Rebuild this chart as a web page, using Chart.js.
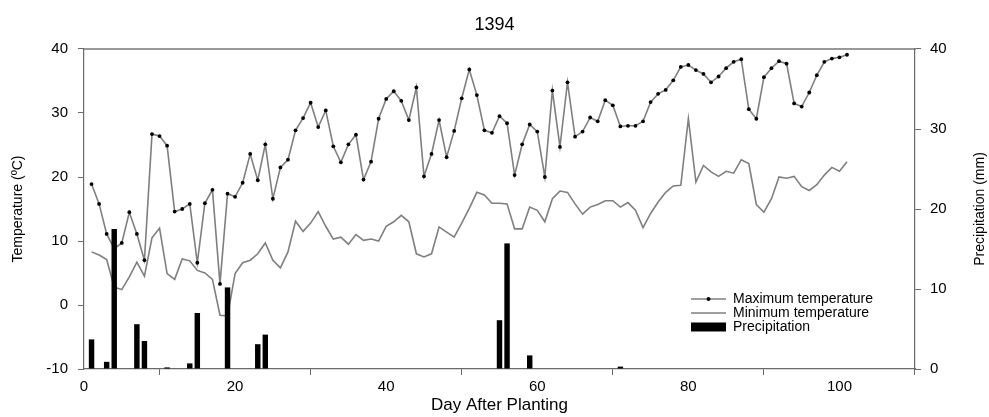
<!DOCTYPE html>
<html>
<head>
<meta charset="utf-8">
<script src="https://cdn.jsdelivr.net/npm/chart.js@4.4.1/dist/chart.umd.min.js"></script>
<style>
  html, body { margin: 0; padding: 0; background: #ffffff; }
  #wrap { width: 989px; height: 417px; position: relative; }
</style>
</head>
<body>
<div id="wrap"><canvas id="c" width="989" height="417"></canvas></div>
<script>
// ---------- data ----------
const chartTitle = '1394';
const days = [1,2,3,4,5,6,7,8,9,10,11,12,13,14,15,16,17,18,19,20,
  21,22,23,24,25,26,27,28,29,30,31,32,33,34,35,36,37,38,39,40,
  41,42,43,44,45,46,47,48,49,50,51,52,53,54,55,56,57,58,59,60,
  61,62,63,64,65,66,67,68,69,70,71,72,73,74,75,76,77,78,79,80,
  81,82,83,84,85,86,87,88,89,90,91,92,93,94,95,96,97,98,99,100,101];

const maxTemp = [18.9,15.8,11.1,8.8,9.7,14.5,11.1,7.0,26.7,26.4,
  24.9,14.6,15.0,15.8,6.6,15.9,18.0,3.3,17.4,16.9,
  19.1,23.6,19.5,25.1,16.6,21.5,22.7,27.3,29.2,31.6,
  27.8,30.4,24.8,22.3,25.1,26.6,19.6,22.4,29.1,32.2,
  33.4,31.9,28.9,34.0,20.1,23.6,28.9,23.1,27.2,32.3,
  36.8,32.8,27.3,26.9,29.5,28.4,20.3,25.1,28.2,27.1,
  20.0,33.5,24.7,34.8,26.3,27.1,29.3,28.7,32.0,31.2,
  27.9,28.0,28.0,28.7,31.7,33.0,33.6,35.1,37.2,37.5,
  36.7,36.1,34.8,35.7,37.0,38.0,38.4,30.6,29.1,35.6,
  37.0,38.1,37.7,31.5,31.0,33.2,35.9,38.0,38.5,38.7,39.1];

const minTemp = [8.3,7.8,7.1,2.8,2.4,4.4,6.7,4.5,10.5,12.0,
  4.9,4.0,7.2,6.9,5.4,5.0,4.0,-1.6,-1.7,4.9,
  6.6,7.0,8.0,9.7,7.0,5.8,8.3,13.1,11.5,12.8,
  14.6,12.3,10.3,10.6,9.5,11.0,10.1,10.3,10.0,12.3,
  13.0,14.0,13.0,8.0,7.5,8.0,12.2,11.4,10.6,12.8,
  15.1,17.6,17.2,15.9,15.9,15.8,11.9,11.9,15.3,14.8,
  13.0,16.6,17.8,17.6,15.8,14.2,15.3,15.7,16.3,16.3,
  15.3,16.0,14.8,12.1,14.3,16.1,17.6,18.6,18.7,29.1,
  19.2,21.8,20.8,20.1,20.9,20.6,22.7,22.1,15.7,14.5,
  16.6,20.0,19.8,20.1,18.5,17.9,18.8,20.3,21.5,20.9,22.4];

const precipDays   = [1, 3, 4, 7, 8, 11, 14, 15, 19, 23, 24, 55, 56, 59, 71];
const precipValues = [3.7, 0.9, 17.5, 5.6, 3.5, 0.2, 0.7, 7.0, 10.2, 3.1, 4.3, 6.1, 15.7, 1.7, 0.3];

const xTicks = [0, 20, 40, 60, 80, 100];
const tempTicks = [-10, 0, 10, 20, 30, 40];
const precipTicks = [0, 10, 20, 30, 40];

const seriesNames = ['Maximum temperature', 'Minimum temperature', 'Precipitation'];
const xTitle = 'Day After Planting';
const yTitle = 'Temperature (ºC)';
const y1Title = 'Precipitation (mm)';

// ---------- styling ----------
const FONT = "'Liberation Sans', Arial, Helvetica, sans-serif";
const AXIS = '#6a6a6a';
const LINE = '#7f7f7f';

const precipData = precipDays.map((d, i) => ({ x: d, y: precipValues[i] }));

// custom legend drawn inside the plot area (bottom right)
const insideLegend = {
  id: 'insideLegend',
  afterDraw(chart) {
    const ctx = chart.ctx;
    const a = chart.chartArea;
    const x0 = a.right - 224, x1 = a.right - 189, tx = a.right - 182;
    const rows = [a.bottom - 70, a.bottom - 56, a.bottom - 42];
    ctx.save();
    ctx.font = '14px ' + FONT;
    ctx.fillStyle = '#000';
    ctx.textBaseline = 'middle';
    ctx.textAlign = 'left';
    // max temp
    ctx.strokeStyle = LINE; ctx.lineWidth = 1.5;
    ctx.beginPath(); ctx.moveTo(x0, rows[0]); ctx.lineTo(x1, rows[0]); ctx.stroke();
    ctx.beginPath(); ctx.arc((x0 + x1) / 2, rows[0], 2, 0, Math.PI * 2); ctx.fill();
    ctx.fillText(seriesNames[0], tx, rows[0]);
    // min temp
    ctx.beginPath(); ctx.moveTo(x0, rows[1]); ctx.lineTo(x1, rows[1]); ctx.stroke();
    ctx.fillText(seriesNames[1], tx, rows[1]);
    // precip
    ctx.fillRect(x0, rows[2] - 4.5, x1 - x0, 9);
    ctx.fillText(seriesNames[2], tx, rows[2]);
    ctx.restore();
  }
};

// right axis title reading bottom-to-top
const rightTitle = {
  id: 'rightTitle',
  afterDraw(chart) {
    const ctx = chart.ctx;
    const a = chart.chartArea;
    ctx.save();
    ctx.font = '14px ' + FONT;
    ctx.fillStyle = '#000';
    ctx.textAlign = 'center';
    ctx.textBaseline = 'middle';
    ctx.translate(980, (a.top + a.bottom) / 2);
    ctx.rotate(-Math.PI / 2);
    ctx.fillText(y1Title, 0, 0);
    ctx.restore();
  }
};

new Chart(document.getElementById('c'), {
  type: 'line',
  data: {
    labels: days,
    datasets: [
      {
        type: 'bar',
        label: seriesNames[2],
        data: precipData,
        yAxisID: 'y1',
        xAxisID: 'x',
        backgroundColor: '#000000',
        borderWidth: 0,
        barPercentage: 0.72,
        categoryPercentage: 1.0,
        order: 0
      },
      {
        label: seriesNames[0],
        data: maxTemp,
        yAxisID: 'y',
        xAxisID: 'x',
        borderColor: LINE,
        borderWidth: 1.6,
        pointRadius: 1.9,
        pointBackgroundColor: '#000000',
        pointBorderColor: '#000000',
        pointBorderWidth: 0,
        tension: 0,
        fill: false,
        order: 1
      },
      {
        label: seriesNames[1],
        data: minTemp,
        yAxisID: 'y',
        xAxisID: 'x',
        borderColor: LINE,
        borderWidth: 1.6,
        pointRadius: 0,
        tension: 0,
        fill: false,
        order: 2
      }
    ]
  },
  options: {
    responsive: false,
    animation: false,
    devicePixelRatio: 1,
    layout: { padding: 0 },
    plugins: {
      legend: { display: false },
      tooltip: { enabled: false },
      title: {
        display: true,
        text: chartTitle,
        color: '#000',
        font: { family: FONT, size: 18, weight: 'normal' },
        padding: { top: 14, bottom: 0 }
      }
    },
    scales: {
      x: {
        type: 'linear',
        position: 'bottom',
        min: 0, max: 110,
        offset: false,
        afterBuildTicks: (s) => { s.ticks = xTicks.map(v => ({ value: v })); },
        afterFit: (s) => { s.height = 48; },
        ticks: { color: '#000', font: { family: FONT, size: 15 }, padding: 3, maxRotation: 0 },
        grid: { display: true, drawOnChartArea: false, drawTicks: true, tickLength: 6, color: AXIS, lineWidth: 1 },
        border: { display: true, color: AXIS, width: 1.2 },
        title: { display: true, text: xTitle, color: '#000', font: { family: FONT, size: 17 }, padding: { top: 1, bottom: 1 } }
      },
      xTop: {
        type: 'linear',
        position: 'top',
        min: 0, max: 110,
        offset: false,
        afterFit: (s) => { s.height = 13.4; },
        ticks: { display: false },
        grid: { display: true, drawOnChartArea: false, drawTicks: false },
        border: { display: true, color: '#999999', width: 2 }
      },
      y: {
        type: 'linear',
        position: 'left',
        min: -10, max: 40,
        afterBuildTicks: (s) => { s.ticks = tempTicks.map(v => ({ value: v })); },
        afterFit: (s) => { s.width = 84; },
        ticks: { color: '#000', font: { family: FONT, size: 15 }, padding: 10 },
        grid: { display: true, drawOnChartArea: false, drawTicks: true, tickLength: 6, color: AXIS, lineWidth: 1 },
        border: { display: true, color: AXIS, width: 1.2 },
        title: { display: true, text: yTitle, color: '#000', font: { family: FONT, size: 14 }, padding: { top: 10, bottom: 10 } }
      },
      y1: {
        type: 'linear',
        position: 'right',
        min: 0, max: 40,
        afterBuildTicks: (s) => { s.ticks = precipTicks.map(v => ({ value: v })); },
        afterFit: (s) => { s.width = 74; },
        ticks: { color: '#000', font: { family: FONT, size: 15 }, padding: 9 },
        grid: { display: true, drawOnChartArea: false, drawTicks: true, tickLength: 6, color: AXIS, lineWidth: 1 },
        border: { display: true, color: AXIS, width: 1.2 },
        title: { display: false }
      }
    }
  },
  plugins: [insideLegend, rightTitle]
});
</script>
</body>
</html>
